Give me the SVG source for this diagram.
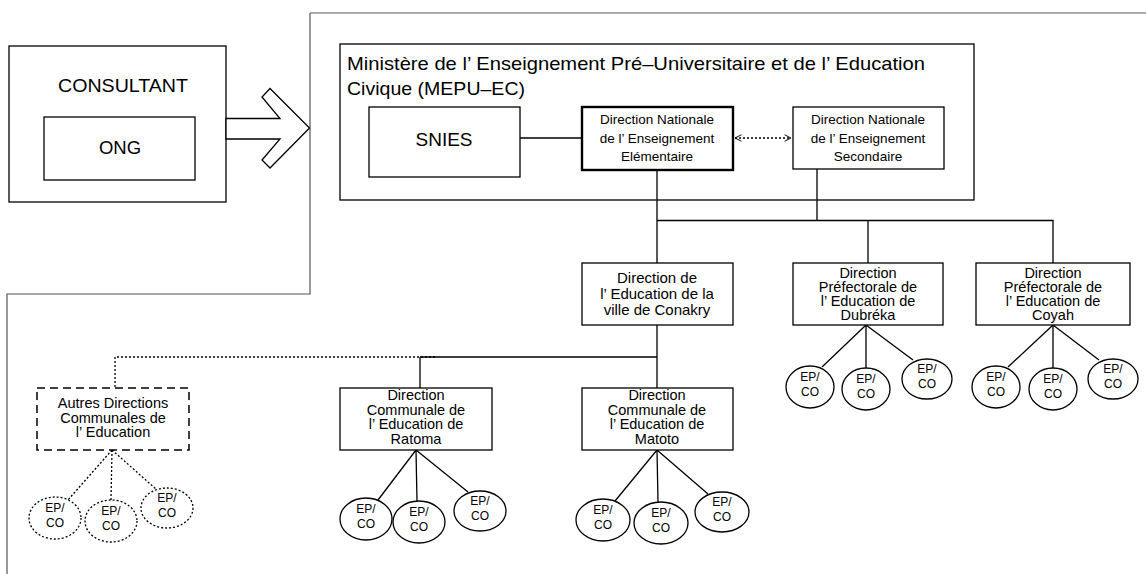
<svg xmlns="http://www.w3.org/2000/svg" width="1146" height="574" viewBox="0 0 1146 574">
<defs>
<style>
.box{fill:#fff;stroke:#000;stroke-width:1.3}
.thick{fill:#fff;stroke:#000;stroke-width:2.4}
.dash{fill:#fff;stroke:#000;stroke-width:1.5;stroke-dasharray:8 5}
.ell{fill:#fff;stroke:#000;stroke-width:1.3}
.ell-dot{fill:#fff;stroke:#000;stroke-width:1.3;stroke-dasharray:2 2}
.ln{fill:none;stroke:#000;stroke-width:1.3}
.dot{fill:none;stroke:#000;stroke-width:1.3;stroke-dasharray:2 2}
.frame{fill:none;stroke:#555;stroke-width:1.2}
text{font-family:"Liberation Sans",Arial,sans-serif;fill:#000}
.c{text-anchor:middle}
.big{font-size:18.5px}
.t13{font-size:13.5px}
.t14{font-size:14.5px}
.t15{font-size:15px}
.ep{font-size:12px;text-anchor:middle}
</style>
<marker id="chev" viewBox="0 0 10 10" refX="9" refY="5" markerWidth="8" markerHeight="8" orient="auto-start-reverse" markerUnits="userSpaceOnUse">
<path d="M1,1 L9,5 L1,9" fill="none" stroke="#000" stroke-width="1.2"/>
</marker>
</defs>
<rect width="1146" height="574" fill="#fff"/>

<g id="frame">
<path class="frame" d="M310,13 H1146 M310,13 V294 H7 V574"/>
</g>

<g id="consultant">
<rect class="box" x="9" y="46" width="217" height="156"/>
<text class="big c" x="123" y="92" textLength="130" lengthAdjust="spacingAndGlyphs">CONSULTANT</text>
</g>
<g id="ong">
<rect class="box" x="44" y="117" width="151" height="63"/>
<text class="big c" x="120" y="154">ONG</text>
</g>
<g id="big-arrow">
<polygon class="box" points="226,118.5 280,118.5 262,97 270,88.5 309.5,128 270,168 262,160 280,139 226,139"/>
</g>

<g id="mepu">
<rect class="box" x="340" y="44" width="634" height="156"/>
<text class="big" x="347" y="70" textLength="578" lengthAdjust="spacingAndGlyphs">Ministère de l’ Enseignement Pré–Universitaire et de l’ Education</text>
<text class="big" x="347" y="95" textLength="178" lengthAdjust="spacingAndGlyphs">Civique (MEPU–EC)</text>
</g>

<g id="connectors">
<line class="ln" x1="520" y1="138" x2="582" y2="138"/>
<line class="dot" x1="735" y1="138" x2="791" y2="138" marker-start="url(#chev)" marker-end="url(#chev)"/>
<path class="ln" d="M657,170 V263 M657,220.5 H1053 V263 M817,169 V220.5 M868,220.5 V263"/>
<path class="ln" d="M657,325 V388 M420,357 H657 M420,357 V388"/>
<path class="dot" d="M435,357 H115 V388"/>
<path class="dot" d="M112,450 L68,500 M112,450 L111,500 M112,450 L157,490"/>
<path class="ln" d="M416,450 L378,500 M416,450 L417,501 M416,450 L468,492"/>
<path class="ln" d="M657,450 L615,501 M657,450 L658,502 M657,450 L708,494"/>
<path class="ln" d="M866,325 L822,367 M866,325 L866,368 M866,325 L913,360"/>
<path class="ln" d="M1053,325 L1008,367 M1053,325 L1053,368 M1053,325 L1099,360"/>
</g>

<g id="snies">
<rect class="box" x="369" y="107" width="151" height="70"/>
<text class="big c" x="444" y="146" textLength="57" lengthAdjust="spacingAndGlyphs">SNIES</text>
</g>
<g id="dnee">
<rect class="thick" x="582" y="107" width="151" height="63"/>
<text class="t13 c" x="657" y="124">Direction Nationale</text>
<text class="t13 c" x="657" y="142.5">de l’ Enseignement</text>
<text class="t13 c" x="657" y="161">Elémentaire</text>
</g>
<g id="dnes">
<rect class="box" x="793" y="107" width="151" height="62"/>
<text class="t13 c" x="868" y="124">Direction Nationale</text>
<text class="t13 c" x="868" y="142.5">de l’ Enseignement</text>
<text class="t13 c" x="868" y="161">Secondaire</text>
</g>

<g id="conakry">
<rect class="box" x="582" y="263" width="151" height="62"/>
<text class="t15 c" x="657" y="283">Direction de</text>
<text class="t15 c" x="657" y="299">l’ Education de la</text>
<text class="t15 c" x="657" y="315">ville de Conakry</text>
</g>
<g id="dubreka">
<rect class="box" x="793" y="263" width="150" height="62"/>
<text class="t14 c" x="868" y="278">Direction</text>
<text class="t14 c" x="868" y="292">Préfectorale de</text>
<text class="t14 c" x="868" y="306">l’ Education de</text>
<text class="t14 c" x="868" y="320">Dubréka</text>
</g>
<g id="coyah">
<rect class="box" x="976" y="263" width="154" height="62"/>
<text class="t14 c" x="1053" y="278">Direction</text>
<text class="t14 c" x="1053" y="292">Préfectorale de</text>
<text class="t14 c" x="1053" y="306">l’ Education de</text>
<text class="t14 c" x="1053" y="320">Coyah</text>
</g>
<g id="autres">
<rect class="dash" x="37" y="388" width="152" height="62"/>
<text class="t14 c" x="113" y="408">Autres Directions</text>
<text class="t14 c" x="113" y="422.5">Communales de</text>
<text class="t14 c" x="113" y="437">l’ Education</text>
</g>
<g id="ratoma">
<rect class="box" x="340" y="388" width="152" height="62"/>
<text class="t14 c" x="416" y="400">Direction</text>
<text class="t14 c" x="416" y="414.5">Communale de</text>
<text class="t14 c" x="416" y="429">l’ Education de</text>
<text class="t14 c" x="416" y="443.5">Ratoma</text>
</g>
<g id="matoto">
<rect class="box" x="582" y="388" width="151" height="62"/>
<text class="t14 c" x="657" y="400">Direction</text>
<text class="t14 c" x="657" y="414.5">Communale de</text>
<text class="t14 c" x="657" y="429">l’ Education de</text>
<text class="t14 c" x="657" y="443.5">Matoto</text>
</g>

<g id="autres-ep1"><ellipse class="ell-dot" cx="55" cy="518" rx="26" ry="21"/><text class="ep" x="55" y="512">EP/</text><text class="ep" x="55" y="527">CO</text></g>
<g id="autres-ep2"><ellipse class="ell-dot" cx="111" cy="521" rx="26" ry="21"/><text class="ep" x="111" y="515">EP/</text><text class="ep" x="111" y="530">CO</text></g>
<g id="autres-ep3"><ellipse class="ell-dot" cx="167" cy="508" rx="26" ry="20"/><text class="ep" x="167" y="502">EP/</text><text class="ep" x="167" y="517">CO</text></g>

<g id="ratoma-ep1"><ellipse class="ell" cx="366" cy="519" rx="26" ry="21"/><text class="ep" x="366" y="513">EP/</text><text class="ep" x="366" y="528">CO</text></g>
<g id="ratoma-ep2"><ellipse class="ell" cx="419" cy="522" rx="26" ry="21"/><text class="ep" x="419" y="516">EP/</text><text class="ep" x="419" y="531">CO</text></g>
<g id="ratoma-ep3"><ellipse class="ell" cx="480" cy="511" rx="26" ry="20"/><text class="ep" x="480" y="505">EP/</text><text class="ep" x="480" y="520">CO</text></g>

<g id="matoto-ep1"><ellipse class="ell" cx="603" cy="520" rx="27" ry="21"/><text class="ep" x="603" y="514">EP/</text><text class="ep" x="603" y="529">CO</text></g>
<g id="matoto-ep2"><ellipse class="ell" cx="661" cy="523" rx="27" ry="21"/><text class="ep" x="661" y="517">EP/</text><text class="ep" x="661" y="532">CO</text></g>
<g id="matoto-ep3"><ellipse class="ell" cx="722" cy="512" rx="27" ry="20"/><text class="ep" x="722" y="506">EP/</text><text class="ep" x="722" y="521">CO</text></g>

<g id="dubreka-ep1"><ellipse class="ell" cx="810" cy="387" rx="24" ry="21"/><text class="ep" x="810" y="381">EP/</text><text class="ep" x="810" y="396">CO</text></g>
<g id="dubreka-ep2"><ellipse class="ell" cx="866" cy="389" rx="24" ry="21"/><text class="ep" x="866" y="383">EP/</text><text class="ep" x="866" y="398">CO</text></g>
<g id="dubreka-ep3"><ellipse class="ell" cx="927" cy="379" rx="25" ry="20"/><text class="ep" x="927" y="373">EP/</text><text class="ep" x="927" y="388">CO</text></g>

<g id="coyah-ep1"><ellipse class="ell" cx="996" cy="387" rx="24" ry="21"/><text class="ep" x="996" y="381">EP/</text><text class="ep" x="996" y="396">CO</text></g>
<g id="coyah-ep2"><ellipse class="ell" cx="1053" cy="389" rx="24" ry="21"/><text class="ep" x="1053" y="383">EP/</text><text class="ep" x="1053" y="398">CO</text></g>
<g id="coyah-ep3"><ellipse class="ell" cx="1113" cy="379" rx="25" ry="20"/><text class="ep" x="1113" y="373">EP/</text><text class="ep" x="1113" y="388">CO</text></g>
</svg>
